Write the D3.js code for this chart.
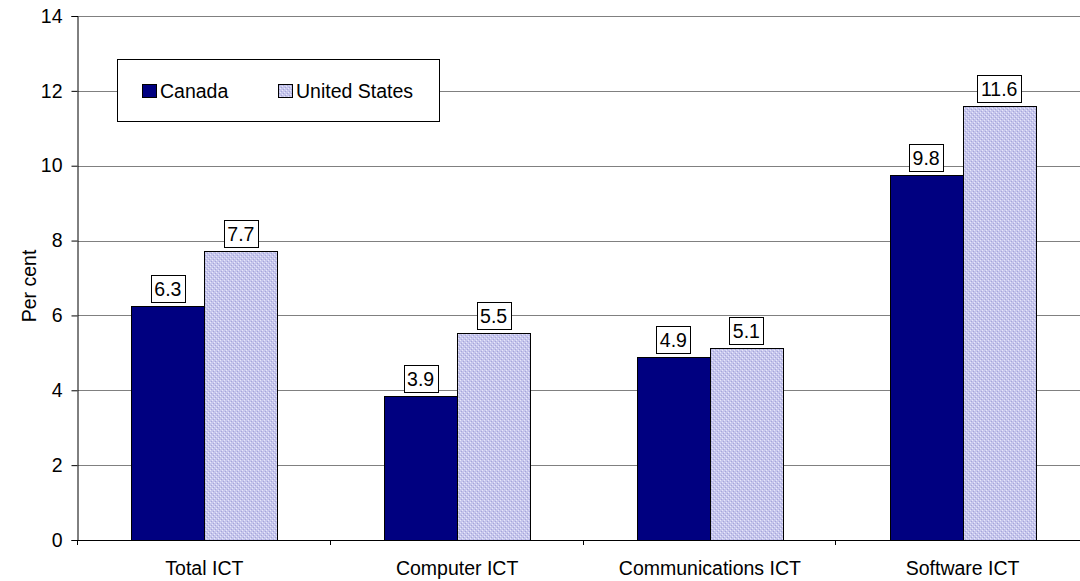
<!DOCTYPE html>
<html><head><meta charset="utf-8">
<script src="https://cdn.jsdelivr.net/npm/d3@7"></script>
<style>body{margin:0;background:#fff;overflow:hidden}svg{display:block;font-family:Arial,"Liberation Sans",sans-serif}</style>
</head><body><svg id="c" width="1080" height="581"></svg>
<script>
const categories = ["Total ICT", "Computer ICT", "Communications ICT", "Software ICT"];
const seriesNames = ["Canada", "United States"];
const canada = [6.25, 3.85, 4.9, 9.75];
const unitedStates = [7.72, 5.53, 5.12, 11.6];
const canadaLabels = ["6.3", "3.9", "4.9", "9.8"];
const usLabels = ["7.7", "5.5", "5.1", "11.6"];
const yTicks = [0, 2, 4, 6, 8, 10, 12, 14];

const FS = 19.5;
const svg = d3.select("#c");
const L = 78, R = 1089, T = 16, B = 540;
const x = d3.scaleBand().domain(categories).range([L, R]).paddingInner(0).paddingOuter(0);
const x1 = d3.scaleBand().domain(seriesNames).range([0, x.bandwidth()]).paddingInner(0).paddingOuter(0.73);
const y = d3.scaleLinear().domain([0, 14]).range([B, T]);

const defs = svg.append("defs");
const pat = defs.append("pattern").attr("id", "hatch").attr("width", 4).attr("height", 4).attr("patternUnits", "userSpaceOnUse");
pat.append("rect").attr("width", 4).attr("height", 4).attr("fill", "#c6c6ec");
pat.append("rect").attr("x", 0).attr("y", 0).attr("width", 1).attr("height", 1).attr("fill", "#e8e8fa");
pat.append("rect").attr("x", 2).attr("y", 2).attr("width", 1).attr("height", 1).attr("fill", "#e8e8fa");
pat.append("rect").attr("x", 1).attr("y", 3).attr("width", 1).attr("height", 1).attr("fill", "#a6a6da");
pat.append("rect").attr("x", 3).attr("y", 1).attr("width", 1).attr("height", 1).attr("fill", "#a6a6da");

// gridlines
svg.append("g").selectAll("line").data(yTicks.filter(d => d > 0)).join("line")
  .attr("x1", L).attr("x2", R).attr("y1", d => Math.round(y(d)) + 0.5).attr("y2", d => Math.round(y(d)) + 0.5)
  .attr("stroke", "#808080").attr("stroke-width", 1);

// y axis
const yAxis = svg.append("g").attr("transform", `translate(${L - 0.5},0)`)
  .call(d3.axisLeft(y).tickValues(yTicks).tickSize(6).tickPadding(9).tickFormat(d3.format("d")));
yAxis.select(".domain").attr("stroke", "#000");
yAxis.selectAll("text").attr("font-size", FS).attr("fill", "#000").attr("font-family", "Arial, 'Liberation Sans', sans-serif");
yAxis.selectAll(".tick line").attr("stroke", "#000");

// bars
const fills = ["#000080", "url(#hatch)"];
const data = [canada, unitedStates];
seriesNames.forEach((s, si) => {
  svg.append("g").selectAll("rect").data(categories).join("rect")
    .attr("x", c => Math.round(x(c) + x1(s)) + 0.5)
    .attr("y", (c, i) => Math.round(y(data[si][i])) + 0.5)
    .attr("width", Math.round(x1.bandwidth()))
    .attr("height", (c, i) => B - Math.round(y(data[si][i])))
    .attr("fill", fills[si]).attr("stroke", "#000").attr("stroke-width", 1);
});

// x axis
svg.append("line").attr("x1", L).attr("x2", R).attr("y1", B + 0.5).attr("y2", B + 0.5).attr("stroke", "#000");
const bounds = categories.map(c => x(c)).concat([R]);
svg.append("g").selectAll("line").data(bounds).join("line")
  .attr("x1", d => Math.round(d) - 0.5).attr("x2", d => Math.round(d) - 0.5)
  .attr("y1", B).attr("y2", B + 5).attr("stroke", "#000");
svg.append("g").selectAll("text").data(categories).join("text")
  .attr("x", c => x(c) + x.bandwidth() / 2).attr("y", 575)
  .attr("text-anchor", "middle").attr("font-size", FS).text(c => c);

// value labels
const labels = [canadaLabels, usLabels];
seriesNames.forEach((s, si) => {
  categories.forEach((c, i) => {
    const cx = x(c) + x1(s) + x1.bandwidth() / 2;
    const top = Math.round(y(data[si][i]));
    const g = svg.append("g");
    const t = g.append("text").attr("x", cx).attr("y", top - 10).attr("text-anchor", "middle")
      .attr("font-size", FS).text(labels[si][i]);
    const w = t.node().getComputedTextLength() + 7;
    g.insert("rect", "text").attr("x", Math.round(cx - w / 2) + 0.5).attr("y", top - 30.5)
      .attr("width", Math.round(w)).attr("height", 27).attr("fill", "#fff").attr("stroke", "#000");
  });
});

// y title
svg.append("text").attr("transform", "translate(36,286) rotate(-90)").attr("text-anchor", "middle")
  .attr("font-size", FS).text("Per cent");

// legend
const lg = svg.append("g");
lg.append("rect").attr("x", 117.5).attr("y", 59.5).attr("width", 322).attr("height", 62)
  .attr("fill", "#fff").attr("stroke", "#000");
const items = [{ n: "Canada", x: 142, f: fills[0] }, { n: "United States", x: 278, f: fills[1] }];
items.forEach(it => {
  lg.append("rect").attr("x", it.x + 0.5).attr("y", 84.5).attr("width", 14).attr("height", 13)
    .attr("fill", it.f).attr("stroke", "#000");
  lg.append("text").attr("x", it.x + 18).attr("y", 98).attr("font-size", FS).text(it.n);
});
</script></body></html>
